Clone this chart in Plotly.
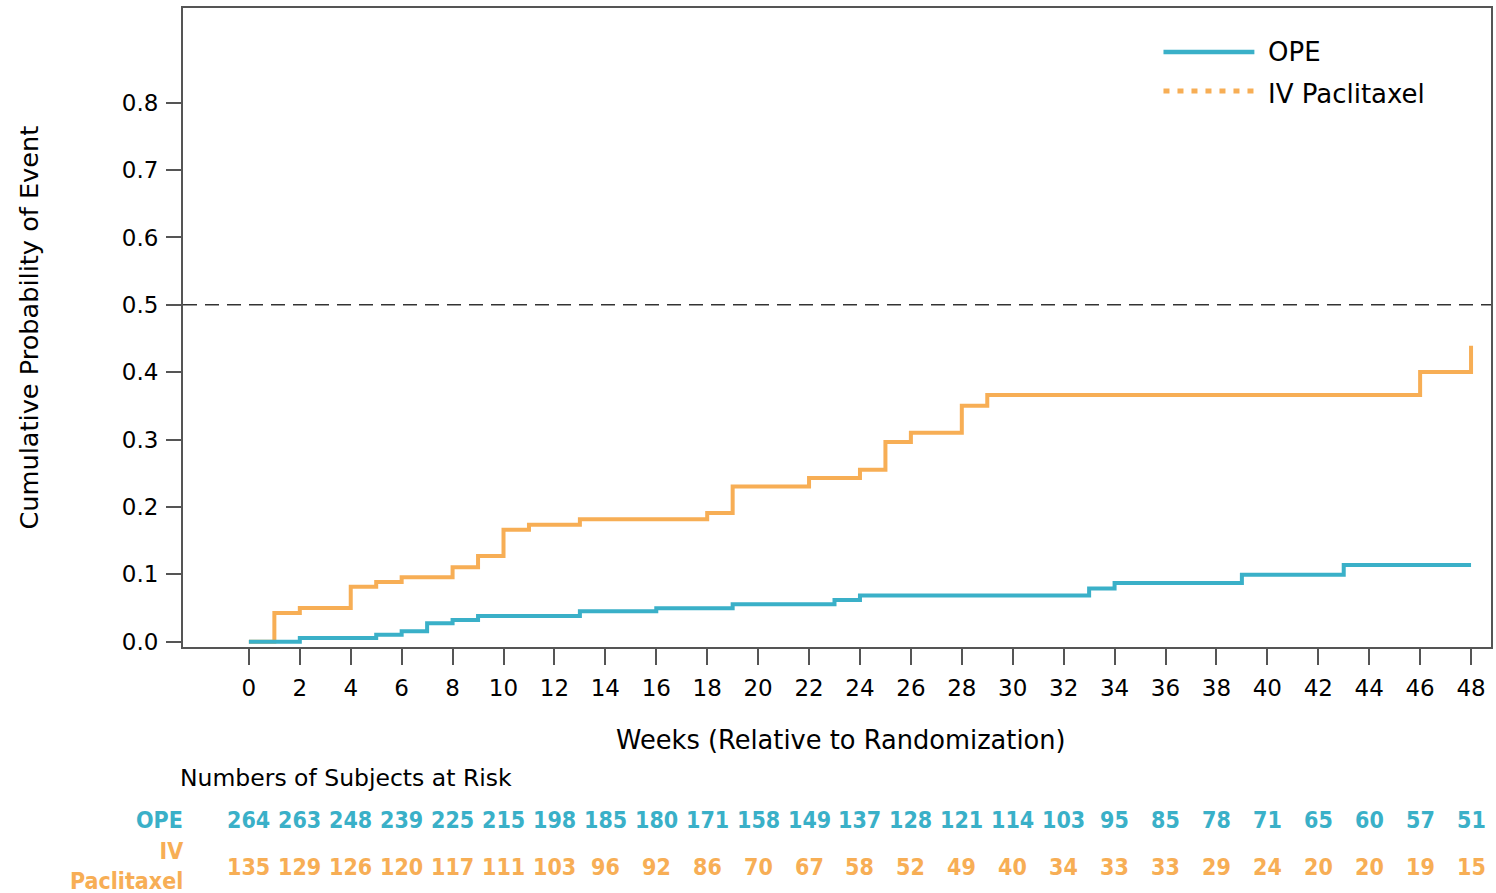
import plotly.graph_objects as go

# Kaplan-Meier style cumulative event probability by treatment arm
ope_weeks = [0, 2, 5, 6, 7, 8, 9, 13, 16, 19, 23, 24, 33, 34, 39, 43, 48]
ope_prob = [0.0, 0.0055, 0.0104, 0.0153, 0.0272, 0.0321, 0.038, 0.045, 0.0495,
            0.0554, 0.0618, 0.0687, 0.079, 0.087, 0.0994, 0.1138, 0.1138]

iv_weeks = [0, 1, 2, 4, 5, 6, 8, 9, 10, 11, 13, 18, 19, 22, 24, 25, 26, 28, 29, 46, 48]
iv_prob = [0.0, 0.0426, 0.050, 0.0816, 0.0886, 0.0955, 0.1104, 0.127, 0.166, 0.1737,
           0.1816, 0.191, 0.2305, 0.243, 0.2553, 0.2964, 0.3102, 0.3503, 0.3662,
           0.4003, 0.4393]

# Subjects at risk, every two weeks
risk_weeks = list(range(0, 50, 2))
ope_at_risk = [264, 263, 248, 239, 225, 215, 198, 185, 180, 171, 158, 149, 137,
               128, 121, 114, 103, 95, 85, 78, 71, 65, 60, 57, 51]
iv_at_risk = [135, 129, 126, 120, 117, 111, 103, 96, 92, 86, 70, 67, 58, 52, 49,
              40, 34, 33, 33, 29, 24, 20, 20, 19, 15]

y_ticks = [0.0, 0.1, 0.2, 0.3, 0.4, 0.5, 0.6, 0.7, 0.8]
median_level = 0.5

TEAL = "#3AB0C8"
ORANGE = "#F7AE55"
AXIS = "#555555"
FONT = "DejaVu Sans"
BOLD_FONT = "DejaVu Sans Condensed, DejaVu Sans"

fig = go.Figure()
fig.add_trace(go.Scatter(x=iv_weeks, y=iv_prob, mode="lines", line_shape="hv",
                         line=dict(color=ORANGE, width=4), showlegend=False,
                         name="IV Paclitaxel"))
fig.add_trace(go.Scatter(x=ope_weeks, y=ope_prob, mode="lines", line_shape="hv",
                         line=dict(color=TEAL, width=4), showlegend=False,
                         name="OPE"))

# Reference line at 50%
fig.add_shape(type="line", xref="paper", x0=0, x1=1, yref="y",
              y0=median_level, y1=median_level,
              line=dict(color="#333333", width=1.5, dash="14px,8px"))

# Legend drawn by hand so the glyphs are long
fig.add_shape(type="line", xref="paper", yref="paper", x0=0.7496, x1=0.8191,
              y0=0.9311, y1=0.9311, line=dict(color=TEAL, width=4.5))
fig.add_shape(type="line", xref="paper", yref="paper", x0=0.7496, x1=0.8191,
              y0=0.870, y1=0.870, line=dict(color=ORANGE, width=5, dash="6px,8px"))

OPE_ROW_Y = -0.2707
IV_ROW_Y = -0.3443

annotations = [
    dict(text="OPE", x=0.8282, y=0.9311, xanchor="left", yanchor="middle",
         font=dict(size=26, family=FONT, color="black")),
    dict(text="IV Paclitaxel", x=0.8282, y=0.8654, xanchor="left", yanchor="middle",
         font=dict(size=26, family=FONT, color="black")),
    dict(text="Cumulative Probability of Event", x=-0.1185, y=0.5, textangle=-90,
         xanchor="center", yanchor="middle",
         font=dict(size=25.6, family=FONT, color="black")),
    dict(text="Weeks (Relative to Randomization)", x=0.5031, y=-0.1455,
         xanchor="center", yanchor="middle",
         font=dict(size=25.7, family=FONT, color="black")),
    dict(text="Numbers of Subjects at Risk", x=-0.0038, y=-0.205,
         xanchor="left", yanchor="middle",
         font=dict(size=23.5, family=FONT, color="black")),
    dict(text="<b>OPE</b>", x=0.0015, y=OPE_ROW_Y, xanchor="right", yanchor="middle",
         font=dict(size=23, family=BOLD_FONT, color=TEAL)),
    dict(text="<b>IV</b><br><b>Paclitaxel</b>", x=0.0015, y=-0.342, xanchor="right",
         yanchor="middle", align="right",
         font=dict(size=23, family=BOLD_FONT, color=ORANGE)),
]
for a in annotations:
    a.update(xref="paper", yref="paper", showarrow=False)

for wk, n in zip(risk_weeks, ope_at_risk):
    annotations.append(dict(text=f"<b>{n}</b>", x=wk, xref="x", y=OPE_ROW_Y, yref="paper",
                            showarrow=False, xanchor="center", yanchor="middle",
                            font=dict(size=23, family=BOLD_FONT, color=TEAL)))
for wk, n in zip(risk_weeks, iv_at_risk):
    annotations.append(dict(text=f"<b>{n}</b>", x=wk, xref="x", y=IV_ROW_Y, yref="paper",
                            showarrow=False, xanchor="center", yanchor="middle",
                            font=dict(size=23, family=BOLD_FONT, color=ORANGE)))

fig.update_layout(
    width=1496, height=893,
    margin=dict(l=183, r=3, t=8, b=246, pad=0),
    paper_bgcolor="white", plot_bgcolor="white",
    annotations=annotations,
    font=dict(family=FONT, color="black"),
    xaxis=dict(range=[-2.588, 48.784], tickmode="array", tickvals=risk_weeks,
               ticktext=[str(w) for w in risk_weeks], ticks="outside", ticklen=16,
               tickwidth=2, tickcolor=AXIS, showline=True, linecolor=AXIS,
               linewidth=2, mirror=True, showgrid=False, zeroline=False,
               tickfont=dict(size=23, family=FONT, color="black"),
               ticklabelstandoff=3),
    yaxis=dict(range=[-0.0079, 0.9406], tickmode="array", tickvals=y_ticks,
               ticktext=[f"{v:.1f}" for v in y_ticks], ticks="outside", ticklen=15,
               tickwidth=2, tickcolor=AXIS, showline=True, linecolor=AXIS,
               linewidth=2, mirror=True, showgrid=False, zeroline=False,
               tickfont=dict(size=23, family=FONT, color="black"),
               ticklabelstandoff=3),
)

fig.write_html("out.html")
